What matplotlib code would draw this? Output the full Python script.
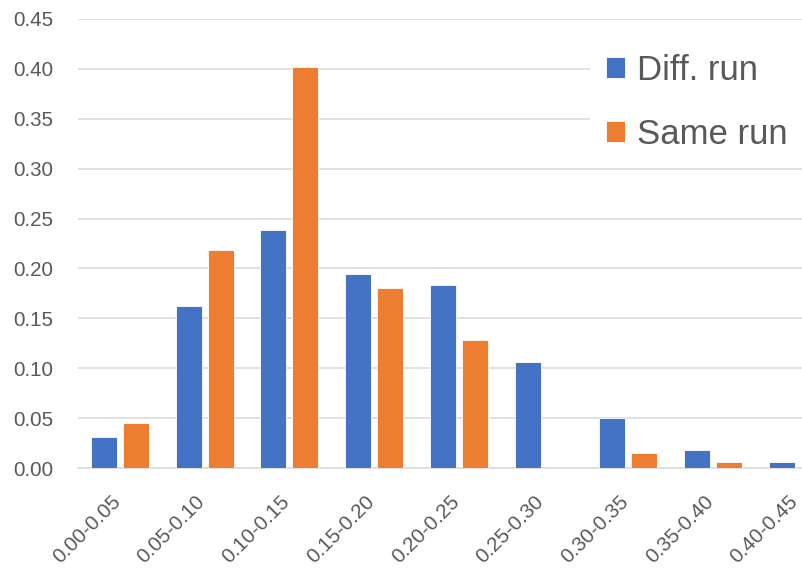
import matplotlib
matplotlib.use("Agg")
import matplotlib.pyplot as plt
import matplotlib.transforms as mtransforms
import numpy as np

categories = ["0.00-0.05", "0.05-0.10", "0.10-0.15", "0.15-0.20", "0.20-0.25",
              "0.25-0.30", "0.30-0.35", "0.35-0.40", "0.40-0.45"]
diff_run = [0.031, 0.162, 0.239, 0.194, 0.183, 0.106, 0.050, 0.018, 0.006]
same_run = [0.045, 0.218, 0.402, 0.180, 0.128, 0.0, 0.015, 0.006, 0.0]
y_ticks = [0.00, 0.05, 0.10, 0.15, 0.20, 0.25, 0.30, 0.35, 0.40, 0.45]

BLUE = "#4472C4"
ORANGE = "#ED7D31"
GRID = "#D9D9D9"
TEXT = "#595959"

plt.rcParams["font.family"] = ["Liberation Sans", "DejaVu Sans"]

W, H = 802, 572
fig = plt.figure(figsize=(W / 100, H / 100), dpi=100)
left_px, right_px = 77.6, 840.0
top_px, bottom_px = 18.7, 468.3
ax = fig.add_axes([left_px / W, 1 - bottom_px / H,
                   (right_px - left_px) / W, (bottom_px - top_px) / H])

x = np.arange(len(categories))
bw = 0.307
off = 0.188
ax.bar(x - off, diff_run, bw, color=BLUE, edgecolor="white", linewidth=0.6,
       label="Diff. run", zorder=3)
ax.bar(x + off, same_run, bw, color=ORANGE, edgecolor="white", linewidth=0.6,
       label="Same run", zorder=3)

ax.set_xlim(-0.5, len(categories) - 0.5)
ax.set_ylim(0, 0.45)
ax.set_yticks(y_ticks)
ax.set_yticklabels([f"{v:.2f}" for v in y_ticks])
ax.yaxis.grid(True, color=GRID, linewidth=1.1, zorder=0)
ax.set_axisbelow(True)

for side in ("top", "right", "left"):
    ax.spines[side].set_visible(False)
ax.spines["bottom"].set_color(GRID)
ax.spines["bottom"].set_linewidth(1.1)
ax.spines["bottom"].set_zorder(2)

ax.tick_params(axis="both", length=0, colors=TEXT, labelsize=14.8)
ax.tick_params(axis="y", pad=17.5)
ax.tick_params(axis="x", pad=22)

ax.set_xticks(x)
ax.set_xticklabels(categories, rotation=45, ha="right", va="center",
                   rotation_mode="anchor")
shift = mtransforms.ScaledTranslation(-2.5 / 100, 0, fig.dpi_scale_trans)
for lab in ax.get_xticklabels():
    lab.set_transform(lab.get_transform() + shift)

leg = ax.legend(loc="upper left", bbox_to_anchor=(590 / W, 1 - 38 / H),
                bbox_transform=fig.transFigure, fontsize=25, frameon=True,
                facecolor="white", edgecolor="none", framealpha=1,
                handlelength=0.57, handleheight=0.57, handletextpad=0.32,
                labelspacing=0.89, borderpad=0.45, borderaxespad=0)
for t in leg.get_texts():
    t.set_color(TEXT)
leg.set_zorder(5)

fig.savefig("out.png", dpi=100, facecolor="white")
